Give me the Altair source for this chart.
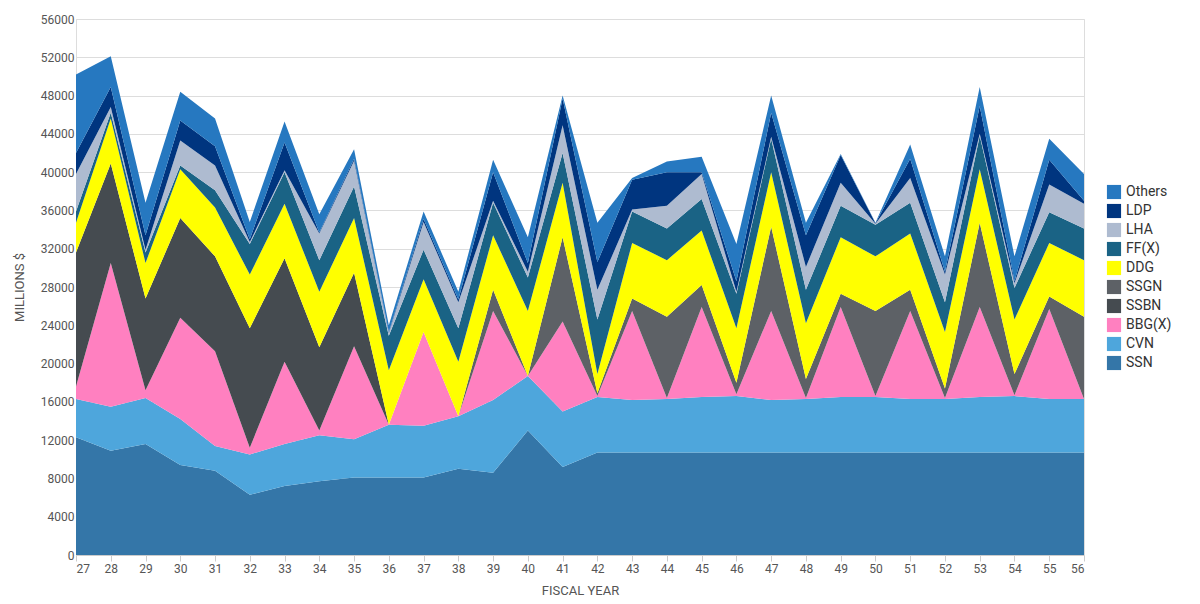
import altair as alt
import pandas as pd

years = list(range(27, 57))
series = ["SSN", "CVN", "BBG(X)", "SSBN", "SSGN", "DDG", "FF(X)", "LHA", "LDP", "Others"]
colors = ["#3476a8", "#4ea6dc", "#ff80c0", "#454b50", "#5d6166", "#ffff00", "#1a6385", "#aebbd0", "#00357f", "#2678c0"]

# cumulative tops (stack top of each series)
top_SSN = [12300,10900,11600,9400,8800,6300,7200,7700,8100,8100,8100,9000,8600,13000,9200,
           10700,10700,10700,10700,10700,10700,10700,10700,10700,10700,10700,10700,10700,10700,10700]
top_CVN = [16300,15500,16400,14200,11400,10500,11600,12500,12100,13600,13500,14500,16200,18700,15000,
           16500,16200,16300,16500,16600,16200,16300,16500,16500,16300,16300,16500,16600,16300,16300]
top_BBG = [17600,30500,17200,24800,21300,11200,20200,13000,21800,13600,23300,14500,25500,18700,24400,
           16600,25500,16400,25900,16800,25500,16400,25900,16600,25500,16400,25900,16700,25700,16300]
top_SSBN = [31600,40900,26800,35200,31200,23700,31000,21700,29500,13600,23300,14500,25500,18700,24400,
            16600,25500,16400,25900,16800,25500,16400,25900,16600,25500,16400,25900,16700,25700,16300]
top_SSGN = [31600,40900,26800,35200,31200,23700,31000,21700,29500,13600,23300,14500,27700,18700,33200,
            16900,26800,24900,28200,18000,34300,18400,27300,25500,27700,17400,34700,18900,27000,24900]
top_DDG = [34700,45600,30500,40300,36300,29300,36700,27500,35200,19300,28800,20200,33400,25500,38900,
           18900,32600,30800,33900,23700,40000,24200,33200,31200,33600,23300,40300,24600,32600,30800]
top_FFX = [35900,46200,31600,40700,38100,32500,40000,30800,38500,22900,31900,23700,36800,29000,42000,
           24600,35900,34100,37200,27300,43500,27700,36500,34500,36800,26400,43800,27900,35800,34100]
top_LHA = [39800,46800,31900,43300,40700,32700,40200,33600,41200,23200,34800,26400,37000,29600,44900,
           27700,36100,36500,39800,27500,43700,30100,38900,34600,39400,29300,44000,28400,38700,36700]
top_LDP = [42000,48900,33400,45400,42700,33000,43100,33700,41400,23300,35100,26700,40000,30500,47700,
           30600,39200,40000,40000,28600,46200,33400,41800,34650,41400,29600,46900,28600,41300,37000]
top_Others = [50200,52100,36800,48400,45600,34800,45300,35600,42400,24000,35900,27500,41300,33200,48000,
              34700,39400,41100,41600,32500,48000,34700,41900,34700,42900,31200,48900,31200,43500,39800]

tops = [top_SSN, top_CVN, top_BBG, top_SSBN, top_SSGN, top_DDG, top_FFX, top_LHA, top_LDP, top_Others]

rows = []
for i, (name, t) in enumerate(zip(series, tops)):
    prev = tops[i - 1] if i > 0 else [0] * len(years)
    for j, y in enumerate(years):
        rows.append({"year": y, "series": name, "order": i, "value": max(t[j] - prev[j], 0)})
df = pd.DataFrame(rows)

legend_order = series[::-1]

chart = alt.Chart(df).mark_area(opacity=1).encode(
    x=alt.X("year:Q", scale=alt.Scale(domain=[27, 56], nice=False),
            axis=alt.Axis(values=years, title="FISCAL YEAR", grid=False, tickSize=6,
                          labelFontSize=12, titleFontSize=13, titleFontWeight="normal",
                          titleColor="#555", labelColor="#555", titlePadding=10, domainColor="#ccc", tickColor="#ccc")),
    y=alt.Y("value:Q", stack="zero", scale=alt.Scale(domain=[0, 56000], nice=False),
            axis=alt.Axis(values=list(range(0, 56001, 4000)), title="MILLIONS $", format="d",
                          labelFontSize=12, titleFontSize=13, titleFontWeight="normal",
                          titleColor="#555", labelColor="#555", gridColor="#ddd", domain=False, ticks=False,
                          titlePadding=14)),
    color=alt.Color("series:N", scale=alt.Scale(domain=series, range=colors),
                    legend=alt.Legend(title=None, values=legend_order, orient="none", legendX=1030, legendY=165,
                                      labelFontSize=14, symbolType="square", symbolSize=200, labelColor="#333",
                                      rowPadding=3)),
    order=alt.Order("order:Q", sort="ascending"),
).properties(width=1008, height=536).configure_view(stroke=None).configure(
    font="Roboto"
)

chart.save("out.html", embed_options={"renderer": "svg", "actions": False})
